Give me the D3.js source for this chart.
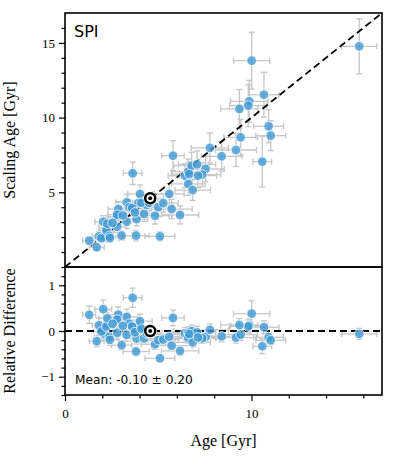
<!DOCTYPE html>
<html>
<head>
<meta charset="utf-8">
<script src="https://cdn.jsdelivr.net/npm/d3@7"></script>
<style>
  html, body { margin: 0; padding: 0; background: #fff; }
  svg { display: block; }
</style>
</head>
<body>
<svg id="chart" width="396" height="457"></svg>
<script>
// ---- data ----
const age      = [1.30,1.70,1.82,2.05,2.24,2.14,2.77,2.86,3.04,3.31,3.31,3.45,3.63,3.81,3.84,3.93,4.02,4.24,4.38,4.83,5.00,5.09,5.27,5.59,5.72,5.79,6.17,1.95,2.22,2.27,2.39,2.41,2.80,2.80,2.55,3.10,3.60,3.75,4.10,4.50,6.43,6.61,6.79,7.08,7.54,7.36,6.61,6.85,6.66,7.13,7.77,8.40,9.17,9.42,10.58,10.92,11.03,10.01,15.78,10.67,9.88,9.83,9.35];
const ageErr   = [0.35,0.40,0.35,0.45,0.40,0.40,0.50,0.55,0.55,0.55,0.60,0.60,0.50,0.70,0.60,0.60,0.65,0.70,0.70,0.75,0.80,0.80,0.80,0.80,1.10,0.60,1.00,0.40,0.40,0.45,0.45,0.45,0.50,0.50,0.45,0.55,0.60,0.60,0.65,0.70,0.90,0.90,0.95,1.00,1.00,1.00,0.90,0.95,0.90,1.00,1.00,1.10,1.10,0.90,0.50,0.80,0.80,0.97,0.94,0.80,1.00,1.00,1.00];
const scalAge  = [1.76,1.32,2.05,3.03,2.54,1.99,3.39,3.88,2.10,3.03,4.33,4.00,6.27,2.10,3.21,4.28,4.89,3.55,4.15,3.43,4.00,2.05,4.28,4.89,3.88,7.45,3.48,1.93,2.44,2.90,2.08,1.95,2.69,3.50,2.95,3.45,3.95,3.65,4.30,4.30,6.11,6.38,6.78,6.87,6.56,6.18,5.56,5.15,6.22,6.11,7.97,7.41,7.83,8.68,7.05,9.42,8.79,13.81,14.77,11.53,11.09,10.80,10.58];
const scalErr  = [0.25,0.20,0.30,0.40,0.35,0.30,0.45,0.50,0.30,0.45,0.55,0.50,0.75,0.35,0.45,0.55,0.60,0.50,0.55,0.55,0.60,0.30,0.60,0.70,0.65,1.00,0.60,0.30,0.35,0.40,0.30,0.30,0.40,0.45,0.40,0.45,0.50,0.50,0.55,0.55,0.80,0.85,0.90,0.90,0.85,0.80,0.75,0.70,0.80,0.80,1.00,1.00,1.10,1.20,1.70,1.10,1.00,1.90,1.85,1.50,1.40,1.40,1.30];
const relDiff  = [0.354,-0.224,0.126,0.478,0.134,-0.070,0.224,0.357,-0.309,-0.085,0.308,0.159,0.727,-0.449,-0.164,0.089,0.216,-0.163,-0.053,-0.290,-0.200,-0.597,-0.188,-0.125,-0.322,0.287,-0.436,-0.010,0.099,0.278,-0.130,-0.191,-0.039,0.250,0.157,0.113,0.097,-0.027,0.049,-0.044,-0.050,-0.035,-0.001,-0.030,-0.130,-0.160,-0.159,-0.248,-0.066,-0.143,0.026,-0.118,-0.146,-0.079,-0.334,-0.137,-0.203,0.380,-0.064,0.081,0.122,0.099,0.132];
const relErr   = [0.19,0.12,0.16,0.20,0.16,0.14,0.16,0.17,0.10,0.14,0.17,0.14,0.21,0.09,0.12,0.14,0.15,0.12,0.13,0.11,0.12,0.06,0.11,0.13,0.11,0.17,0.10,0.15,0.16,0.18,0.13,0.12,0.14,0.16,0.16,0.15,0.14,0.13,0.13,0.12,0.12,0.13,0.13,0.13,0.11,0.11,0.11,0.10,0.12,0.11,0.13,0.12,0.12,0.13,0.16,0.10,0.09,0.28,0.12,0.14,0.14,0.14,0.14];
const sunAge = 4.57, sunScal = 4.60, sunRel = 0.0;
const panelLabel = "SPI";
const meanLabel = "Mean: -0.10 \u00b1 0.20";
const xMajor = [0, 10];
const xMinor = [2, 4, 6, 8, 12, 14, 16];
const yTopMajor = [5, 10, 15];
const yTopMinor = [1,2,3,4,6,7,8,9,11,12,13,14,16];
const yBotMajor = [-1, 0, 1];
const yBotMinor = [-1.4,-1.2,-0.8,-0.6,-0.4,-0.2,0.2,0.4,0.6,0.8,1.2,1.4];

// ---- layout ----
const L = 65, R = 382, T1 = 13, B1 = 267, T2 = 267, B2 = 395;
const svg = d3.select("#chart");
const x = d3.scaleLinear().domain([0, 17]).range([L, R]);
const yTop = d3.scaleLinear().domain([0, 17]).range([B1, T1]);
const yBot = d3.scaleLinear().domain([-1.4, 1.4]).range([B2, T2]);

const serif = "'Liberation Serif', 'Times New Roman', serif";
const sans = "'DejaVu Sans', sans-serif";

const stars = age.map((a, i) => ({a, ae: ageErr[i], s: scalAge[i], se: scalErr[i], r: relDiff[i], re: relErr[i]}));

const defs = svg.append("defs");
defs.append("clipPath").attr("id", "c1").append("rect").attr("x", L).attr("y", T1).attr("width", R - L).attr("height", B1 - T1);
defs.append("clipPath").attr("id", "c2").append("rect").attr("x", L).attr("y", T2).attr("width", R - L).attr("height", B2 - T2);

const errColor = "#c6c6c6";
const cap = 3;

function drawPanel(g, yS, yKey, yErrKey, lineFn, sun) {
  const eb = g.append("g").attr("stroke", errColor).attr("stroke-width", 1.3).attr("fill", "none");
  stars.forEach(d => {
    const cx = x(d.a), cy = yS(d[yKey]);
    const x0 = x(d.a - d.ae), x1 = x(d.a + d.ae);
    const y0 = yS(d[yKey] - d[yErrKey]), y1 = yS(d[yKey] + d[yErrKey]);
    eb.append("line").attr("x1", x0).attr("x2", x1).attr("y1", cy).attr("y2", cy);
    eb.append("line").attr("x1", x0).attr("x2", x0).attr("y1", cy - cap).attr("y2", cy + cap);
    eb.append("line").attr("x1", x1).attr("x2", x1).attr("y1", cy - cap).attr("y2", cy + cap);
    eb.append("line").attr("x1", cx).attr("x2", cx).attr("y1", y0).attr("y2", y1);
    eb.append("line").attr("x1", cx - cap).attr("x2", cx + cap).attr("y1", y0).attr("y2", y0);
    eb.append("line").attr("x1", cx - cap).attr("x2", cx + cap).attr("y1", y1).attr("y2", y1);
  });
  lineFn(g);
  g.append("g").selectAll("circle").data(stars).join("circle")
    .attr("cx", d => x(d.a)).attr("cy", d => yS(d[yKey])).attr("r", 4.8)
    .attr("fill", "#3f9ad6").attr("fill-opacity", 0.8)
    .attr("stroke", "#ffffff").attr("stroke-width", 0.9).attr("stroke-opacity", 0.85);
  g.append("circle").attr("cx", x(sun[0])).attr("cy", yS(sun[1])).attr("r", 6.8).attr("fill", "#fff");
  g.append("circle").attr("cx", x(sun[0])).attr("cy", yS(sun[1])).attr("r", 5.0)
    .attr("fill", "#fff").attr("stroke", "#000").attr("stroke-width", 2.5);
  g.append("circle").attr("cx", x(sun[0])).attr("cy", yS(sun[1])).attr("r", 2.0).attr("fill", "#000");
}

const g1 = svg.append("g").attr("clip-path", "url(#c1)");
drawPanel(g1, yTop, "s", "se", g => {
  g.append("line").attr("x1", x(0)).attr("y1", yTop(0)).attr("x2", x(17)).attr("y2", yTop(17))
    .attr("stroke", "#000").attr("stroke-width", 1.8).attr("stroke-dasharray", "7,4");
}, [sunAge, sunScal]);

const g2 = svg.append("g").attr("clip-path", "url(#c2)");
drawPanel(g2, yBot, "r", "re", g => {
  g.append("line").attr("x1", x(0)).attr("y1", yBot(0)).attr("x2", x(17)).attr("y2", yBot(0))
    .attr("stroke", "#000").attr("stroke-width", 1.8).attr("stroke-dasharray", "7,4");
}, [sunAge, sunRel]);

svg.append("rect").attr("x", L).attr("y", T1).attr("width", R - L).attr("height", B1 - T1)
  .attr("fill", "none").attr("stroke", "#000").attr("stroke-width", 1.6);
svg.append("rect").attr("x", L).attr("y", T2).attr("width", R - L).attr("height", B2 - T2)
  .attr("fill", "none").attr("stroke", "#000").attr("stroke-width", 1.6);

function styleAxis(sel) {
  sel.select(".domain").remove();
  sel.selectAll(".tick line").attr("stroke", "#000").attr("stroke-width", 1.2);
  sel.selectAll(".tick text").attr("font-family", serif).attr("font-size", 13).attr("fill", "#000");
}
const fmt = d => d < 0 ? "\u2212" + Math.abs(d) : String(d);

svg.append("g").attr("transform", `translate(${L},0)`)
  .call(d3.axisLeft(yTop).tickValues(yTopMinor).tickSize(3.5).tickFormat(""))
  .call(styleAxis);
svg.append("g").attr("transform", `translate(${L},0)`)
  .call(d3.axisLeft(yTop).tickValues(yTopMajor).tickSize(6).tickPadding(4).tickFormat(fmt))
  .call(styleAxis);
svg.append("g").attr("transform", `translate(${L},0)`)
  .call(d3.axisLeft(yBot).tickValues(yBotMinor).tickSize(3.5).tickFormat(""))
  .call(styleAxis);
svg.append("g").attr("transform", `translate(${L},0)`)
  .call(d3.axisLeft(yBot).tickValues(yBotMajor).tickSize(6).tickPadding(4).tickFormat(fmt))
  .call(styleAxis);
svg.append("g").attr("transform", `translate(0,${B2})`)
  .call(d3.axisBottom(x).tickValues(xMinor).tickSize(3.5).tickFormat(""))
  .call(styleAxis);
svg.append("g").attr("transform", `translate(0,${B2})`)
  .call(d3.axisBottom(x).tickValues(xMajor).tickSize(6).tickPadding(8).tickFormat(fmt))
  .call(styleAxis);

svg.append("text").attr("x", 74).attr("y", 37).attr("font-family", sans).attr("font-size", 16).text(panelLabel);
svg.append("text").attr("x", 75).attr("y", 384).attr("font-family", sans).attr("font-size", 12.2).text(meanLabel);

svg.append("text").attr("transform", `translate(15,${(T1 + B1) / 2}) rotate(-90)`)
  .attr("text-anchor", "middle").attr("font-family", serif).attr("font-size", 16).text("Scaling Age [Gyr]");
svg.append("text").attr("transform", `translate(15,${(T2 + B2) / 2}) rotate(-90)`)
  .attr("text-anchor", "middle").attr("font-family", serif).attr("font-size", 16).text("Relative Difference");
svg.append("text").attr("x", (L + R) / 2).attr("y", 446)
  .attr("text-anchor", "middle").attr("font-family", serif).attr("font-size", 16).text("Age [Gyr]");
</script>
</body>
</html>
